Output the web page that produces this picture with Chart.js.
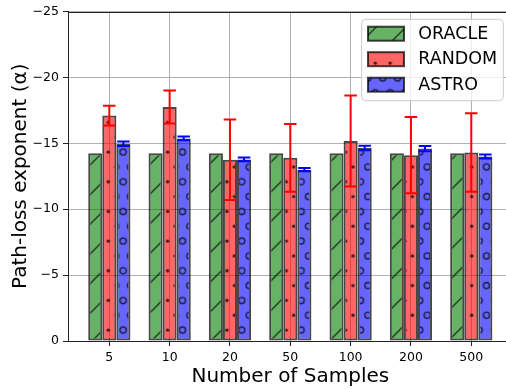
<!DOCTYPE html>
<html><head><meta charset="utf-8">
<script src="https://cdn.jsdelivr.net/npm/chart.js@4.4.1/dist/chart.umd.min.js"></script>
<style>html,body{margin:0;padding:0;background:#fff;overflow:hidden}#wrap{width:506px;height:389px;overflow:hidden}</style>
</head><body><div id="wrap"><canvas id="c" width="520" height="389"></canvas></div>
<script>
// ---- data ----
const categories = ['5', '10', '20', '50', '100', '200', '500'];
const seriesNames = ['ORACLE', 'RANDOM', 'ASTRO'];
const oracle = [-14.25, -14.25, -14.25, -14.25, -14.25, -14.25, -14.25];
const random = [-17.1, -17.75, -13.75, -13.9, -15.18, -14.1, -14.3];
const randomErr = [0.74, 1.25, 3.06, 2.57, 3.45, 2.89, 2.98];
const astro = [-14.97, -15.37, -13.78, -13.0, -14.65, -14.6, -14.0];
const astroErr = [0.17, 0.14, 0.14, 0.13, 0.17, 0.2, 0.15];
const yTicks = [-25, -20, -15, -10, -5, 0];

// ---- hatch patterns ----
const FONT = 'DejaVu Sans';
const hatchColor = 'rgba(0,0,0,0.78)';
function makePattern(face, kind, tx, ty) {
  const n = 89;
  const cv = document.createElement('canvas'); cv.width = n; cv.height = n;
  const g = cv.getContext('2d');
  g.fillStyle = face; g.fillRect(0, 0, n, n);
  g.strokeStyle = hatchColor; g.fillStyle = hatchColor; g.lineWidth = 1.3;
  const s = n / 6;
  if (kind === '/') {
    g.beginPath();
    for (let k = -3; k <= 9; k++) { const c0 = k * n / 3; g.moveTo(c0 + 4, -4); g.lineTo(c0 - n - 4, n + 4); }
    g.stroke();
  } else {
    for (let r = 0; r < 6; r++) {
      for (let c = 0; c < 6; c++) {
        const x = (r % 2 === 0) ? c * s : (c + 0.5) * s;
        const y = r * s;
        for (const dx of [-n, 0, n]) for (const dy of [-n, 0, n]) {
          g.beginPath();
          if (kind === '.') { g.arc(x + dx, y + dy, 1.7, 0, Math.PI * 2); g.fill(); }
          else { g.arc(x + dx, y + dy, 3.1, 0, Math.PI * 2); g.stroke(); }
        }
      }
    }
  }
  const ctx = document.getElementById('c').getContext('2d');
  const p = ctx.createPattern(cv, 'repeat');
  p.setTransform(new DOMMatrix().translate(tx, ty));
  return p;
}
const patO = makePattern('rgba(0,128,0,0.6)', '/', 17.6, 0);
const patR = makePattern('rgba(255,0,0,0.6)', '.', 108.3, 181.7);
const patA = makePattern('rgba(0,0,255,0.6)', 'o', 108.3, 181.7);

const edge = 'rgba(0,0,0,0.72)';
function ds(label, vals, pat) {
  return { label, data: vals.map((v, i) => ({ x: i, y: v })), backgroundColor: pat,
    borderColor: edge, borderWidth: 2, borderSkipped: false,
    categoryPercentage: 0.7, barPercentage: 1.0 };
}

const errorBars = {
  id: 'errorBars',
  afterDatasetsDraw(chart) {
    const ctx = chart.ctx, ys = chart.scales.y;
    [[1, randomErr, '#ff0000'], [2, astroErr, '#0000ff']].forEach(([di, errs, col]) => {
      const meta = chart.getDatasetMeta(di);
      meta.data.forEach((bar, i) => {
        const v = chart.data.datasets[di].data[i].y;
        const x = bar.x;
        const y1 = ys.getPixelForValue(v - errs[i]);
        const y2 = ys.getPixelForValue(v + errs[i]);
        ctx.save(); ctx.strokeStyle = col; ctx.lineWidth = 2;
        ctx.beginPath();
        ctx.moveTo(x, y1); ctx.lineTo(x, y2);
        ctx.moveTo(x - 6.25, y1); ctx.lineTo(x + 6.25, y1);
        ctx.moveTo(x - 6.25, y2); ctx.lineTo(x + 6.25, y2);
        ctx.stroke(); ctx.restore();
      });
    });
  }
};

const frameLegend = {
  id: 'frameLegend',
  afterDraw(chart) {
    const ctx = chart.ctx, ca = chart.chartArea;
    ctx.save();
    ctx.strokeStyle = '#222'; ctx.lineWidth = 1;
    ctx.beginPath(); ctx.moveTo(ca.left, Math.round(ca.top) + 0.5); ctx.lineTo(ca.right, Math.round(ca.top) + 0.5); ctx.stroke();
    // legend
    const bx = 361.7, by = 19.3, bw = 141.6, bh = 81.4;
    ctx.beginPath(); ctx.roundRect(bx, by, bw, bh, 4);
    ctx.fillStyle = 'rgba(255,255,255,0.8)'; ctx.fill();
    ctx.strokeStyle = '#cccccc'; ctx.lineWidth = 1; ctx.stroke();
    chart.data.datasets.forEach((d, i) => {
      const cy = 33.7 + i * 25.5;
      ctx.fillStyle = d.backgroundColor;
      ctx.fillRect(368, cy - 7, 36, 14);
      ctx.strokeStyle = edge; ctx.lineWidth = 2;
      ctx.strokeRect(368, cy - 7, 36, 14);
      ctx.fillStyle = '#000'; ctx.font = '17.5px "' + FONT + '"';
      ctx.textBaseline = 'middle'; ctx.textAlign = 'left';
      ctx.fillText(d.label, 418.3, cy + 0.5);
    });
    ctx.restore();
  }
};

const tickFont = { family: FONT, size: 12.5 };
new Chart(document.getElementById('c'), {
  type: 'bar',
  data: { datasets: [ds(seriesNames[0], oracle, patO), ds(seriesNames[1], random, patR), ds(seriesNames[2], astro, patA)] },
  options: {
    responsive: false, animation: false,
    layout: { padding: { left: 0, right: 7.4, top: 10, bottom: 0 } },
    plugins: { legend: { display: false }, tooltip: { enabled: false } },
    scales: {
      x: {
        type: 'linear', min: -0.685, max: 6.685, offset: false,
        afterBuildTicks: s => { s.ticks = categories.map((_, i) => ({ value: i })); },
        afterFit: s => { s.height = 48; },
        ticks: { callback: v => categories[v] !== undefined ? categories[v] : '', font: tickFont, color: '#000', padding: 4, maxRotation: 0, autoSkip: false },
        grid: { color: '#b0b0b0', lineWidth: 1, tickColor: '#222', tickLength: 5, offset: false },
        border: { color: '#222', width: 1 },
        title: { display: true, text: 'Number of Samples', font: { family: FONT, size: 20 }, color: '#000', padding: { top: 0, bottom: 0.6 } }
      },
      y: {
        type: 'linear', min: -25, max: 0, reverse: true,
        afterBuildTicks: s => { s.ticks = yTicks.map(v => ({ value: v })); },
        afterFit: s => { s.width = 68; },
        ticks: { callback: v => v < 0 ? '\u2212' + Math.abs(v) : String(v), font: tickFont, color: '#000', padding: 4 },
        grid: { color: '#b0b0b0', lineWidth: 1, tickColor: '#222', tickLength: 5 },
        border: { color: '#222', width: 1 },
        title: { display: true, text: 'Path-loss exponent (α)', font: { family: FONT, size: 20 }, color: '#000', padding: { top: 8.8, bottom: 0 } }
      }
    }
  },
  plugins: [errorBars, frameLegend]
});
</script></body></html>
